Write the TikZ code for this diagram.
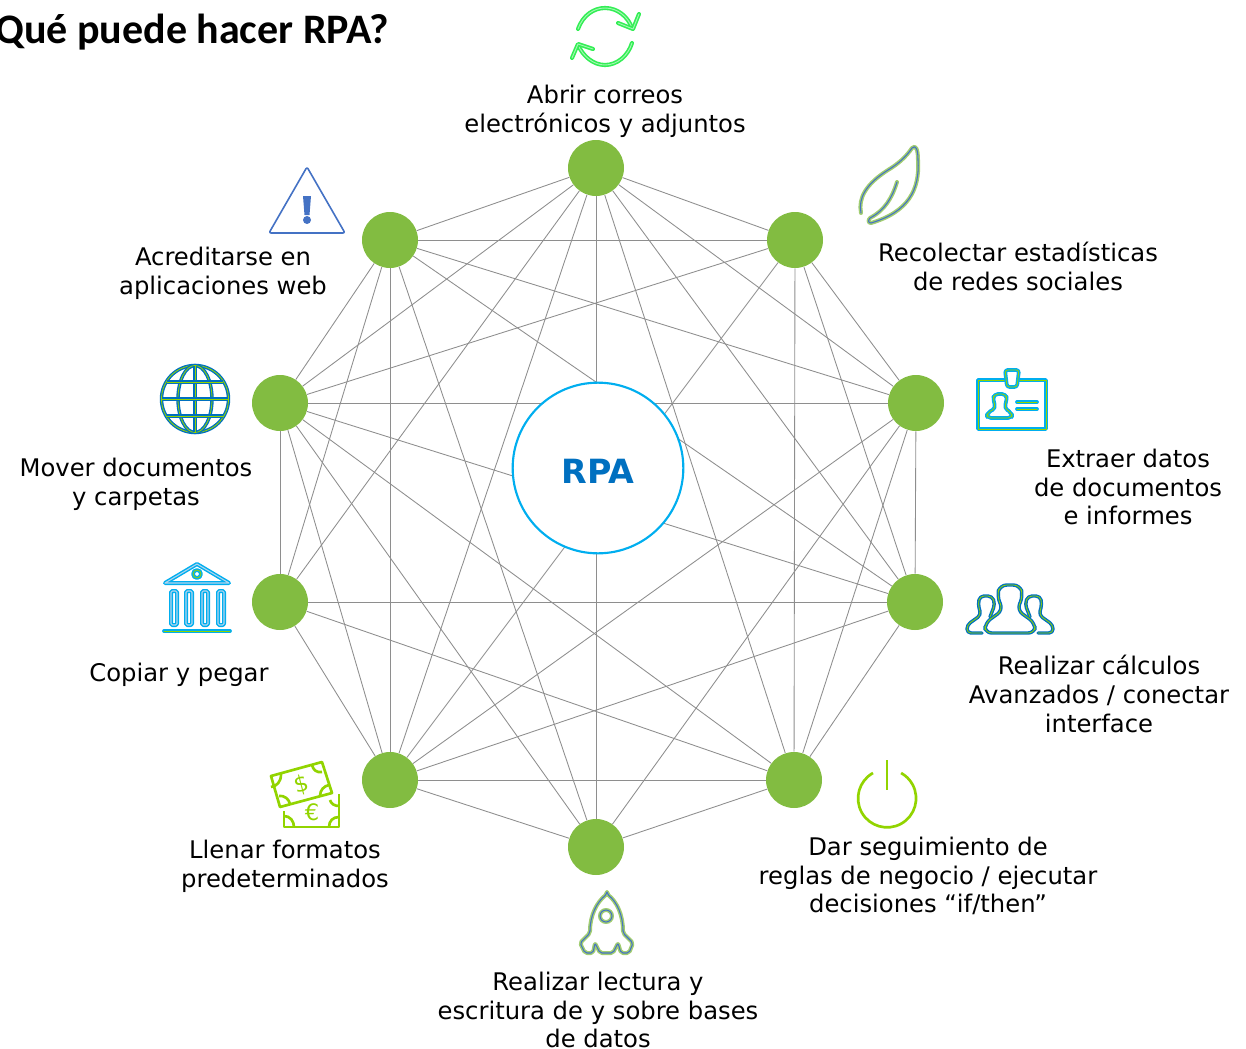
\documentclass[tikz,border=0pt]{standalone}
\usepackage{fontspec}
\setmainfont{DejaVu Sans}
\newfontfamily\titlefont{Carlito}
\definecolor{hubgreen}{HTML}{82BC41}
\definecolor{linkgray}{HTML}{8E8E8E}
\definecolor{rpablue}{HTML}{0070C0}
\definecolor{rpacyan}{HTML}{00AEEF}
\definecolor{limegreen}{HTML}{92D400}
\definecolor{brightgreen}{HTML}{33EE55}
\definecolor{softblue}{HTML}{4472C4}
\tikzset{
    hub/.style={circle, fill=hubgreen, minimum size=42pt, inner sep=0pt},
    link/.style={draw=linkgray, line width=0.65pt},
    label/.style={align=center, font=\fontsize{18.2pt}{21.6pt}\selectfont, inner sep=0pt},
    iconrefresh/.style={draw=brightgreen, line width=1.2pt, double=brightgreen!45!white, double distance=0.7pt, line cap=round, line join=round},
    iconleaf/.style={draw=hubgreen!75!white, line width=1.1pt, double=softblue, double distance=0.8pt, line cap=round, line join=round},
    iconglobe/.style={draw=rpablue, line width=1pt, double=limegreen, double distance=0.6pt},
    iconcyan/.style={draw=rpacyan, line width=1.1pt, double=white!70!rpablue, double distance=0.8pt, line cap=round, line join=round},
    iconcard/.style={draw=rpacyan, line width=1.1pt, double=limegreen, double distance=0.6pt, line cap=round, line join=round},
    iconteam/.style={draw=rpablue, line width=1pt, double=limegreen, double distance=0.6pt, line cap=round, line join=round},
    iconmoney/.style={draw=limegreen, line width=2pt, line join=round},
    iconpower/.style={draw=limegreen, line width=2pt},
}
\begin{document}
\begin{tikzpicture}[x=0.75pt, y=-0.75pt]
    \useasboundingbox (0,0) rectangle (1246,1049);

    % Title
    \node[anchor=west, inner sep=0pt, font=\titlefont\bfseries\fontsize{31.5pt}{34pt}\selectfont] (title) at (-5,32) {Qué puede hacer RPA?};

    % The ten green hubs
    \node[hub] (hub1) at (596,168) {};
    \node[hub] (hub2) at (795,240) {};
    \node[hub] (hub3) at (916,403) {};
    \node[hub] (hub4) at (915,602) {};
    \node[hub] (hub5) at (794,780) {};
    \node[hub] (hub6) at (596,847) {};
    \node[hub] (hub7) at (390,780) {};
    \node[hub] (hub8) at (280,602) {};
    \node[hub] (hub9) at (280,403) {};
    \node[hub] (hub10) at (390,240) {};

    % Links between the hubs
    \foreach \a/\others in {1/{2,3,4,5,6,7,8,9,10}, 2/{3,4,5,7,9,10}, 3/{4,5,6,7,9,10}, 4/{5,7,8,9,10}, 5/{6,7,8,9}, 6/{7,9,10}, 7/{8,9,10}, 8/{9,10}, 9/{10}} {
        \foreach \b in \others {
            \draw[link] (hub\a) -- (hub\b);
        }
    }

    % Centre circle hides the links behind it
    \node[circle, draw=rpacyan, fill=white, line width=1.6pt, minimum size=128pt, inner sep=0pt, font=\bfseries\fontsize{25pt}{28pt}\selectfont, text=rpablue] (rpa) at (598,468) {\raisebox{-11.5pt}[0pt][0pt]{RPA}};

    % Labels
    \node[label] (correos) at (605,111) {Abrir correos\\electrónicos y adjuntos};
    \node[label] (redes) at (1018,266.5) {Recolectar estadísticas\\de redes sociales};
    \node[label] (informes) at (1128,487) {Extraer datos\\de documentos\\e informes};
    \node[label] (calculos) at (1099,694) {Realizar cálculos\\Avanzados / conectar\\interface};
    \node[label] (reglas) at (928,876) {Dar seguimiento de\\reglas de negocio / ejecutar\\decisiones “if/then”};
    \node[label] (bases) at (598,1010) {Realizar lectura y\\escritura de y sobre bases\\de datos};
    \node[label] (formatos) at (285,866) {Llenar formatos\\predeterminados};
    \node[label] (copiar) at (179,675) {Copiar y pegar};
    \node[label] (carpetas) at (136,484) {Mover documentos\\y carpetas};
    \node[label] (web) at (223,273) {Acreditarse en\\aplicaciones web};

    % Refresh icon
    \draw[iconrefresh] (578,29) .. controls (583,15) and (594,8) .. (605,8) .. controls (618,8) and (628,17) .. (632,28);
    \draw[iconrefresh] (618,23) -- (633,29) -- (639,14);
    \draw[iconrefresh] (632,43) .. controls (628,56) and (617,65) .. (605,65) .. controls (593,65) and (583,56) .. (578,45);
    \draw[iconrefresh] (593,49) -- (578,44) -- (572,58);

    % Leaf icon
    \draw[iconleaf] (861,213) .. controls (858,198) and (866,184) .. (888,170) .. controls (898,164) and (906,157) .. (912,148) .. controls (916,144) and (918,150) .. (918,160) .. controls (920,190) and (908,212) .. (871,223) .. controls (868,223) and (868,220) .. (870,218) .. controls (885,210) and (892,198) .. (897,182);

    % Warning icon
    \draw[softblue, line width=1.2pt, line join=round, rounded corners=1.5pt] (307,167) -- (345,233) -- (269,233) -- cycle;
    \fill[softblue] (303,196) -- (311,196) -- (309.5,215) -- (304.5,215) -- cycle;
    \fill[softblue] (307,220) circle (4);

    % Globe icon
    \draw[iconglobe] (195,399) circle (33.5);
    \draw[iconglobe] (195,399) ellipse (17 and 33.5);
    \draw[iconglobe] (195,366) -- (195,432);
    \draw[iconglobe] (162,399) -- (228,399);
    \draw[iconglobe] (167,382) -- (223,382);
    \draw[iconglobe] (167,416) -- (223,416);

    % Bank icon
    \draw[iconcyan] (165,583) -- (197,564) -- (229,583) -- cycle;
    \draw[iconcard] (197,574) circle (4);
    \foreach \colx in {171,186,202,218} {
        \draw[iconcyan, rounded corners=1pt] (\colx,591) rectangle ++(6,34);
    }
    \draw[iconcard] (164,631) -- (230,631);

    % Money icon
    \draw[iconmoney] (271,776) -- (322,762) -- (332,793) -- (280,807) -- cycle;
    \draw[iconmoney] (271,787) .. controls (277,786) and (281,782) .. (281,774);
    \draw[iconmoney] (312,765) .. controls (313,770) and (317,773) .. (322,772);
    \draw[iconmoney] (320,796) .. controls (320,790) and (324,786) .. (329,785);
    \draw[iconmoney] (279,796) .. controls (284,795) and (289,799) .. (290,804);
    \node[rotate=15, text=limegreen, inner sep=0pt, font=\fontsize{17pt}{18pt}\selectfont] (dollar) at (302,785) {\$};
    \draw[iconmoney] (284,811) -- (284,827) -- (339,827) -- (339,794);
    \draw[iconmoney] (284,816) .. controls (290,816) and (294,821) .. (294,827);
    \draw[iconmoney] (329,827) .. controls (329,821) and (333,817) .. (339,817);
    \draw[iconmoney] (330,800) .. controls (331,804) and (335,806) .. (339,806);
    \node[text=limegreen, inner sep=0pt, font=\fontsize{17pt}{18pt}\selectfont] (euro) at (312,812) {€};

    % Badge icon
    \draw[iconcard] (978,380) rectangle (1046,429);
    \draw[iconcard, fill=white, rounded corners=2pt] (1005,370) -- (1019,370) -- (1017,387) -- (1007,387) -- cycle;
    \draw[iconcard, rounded corners=3pt] (987,418) -- (987,413) -- (996,408) -- (993,400) -- (994,394) -- (1006,394) -- (1007,400) -- (1004,408) -- (1012,413) -- (1012,418) -- cycle;
    \draw[iconcard] (1017,402) -- (1037,402);
    \draw[iconcard] (1017,409) -- (1037,409);

    % Team icon
    \draw[iconteam, rounded corners=3pt] (982,633) -- (967,633) -- (967,625) -- (981,615) -- (978,604) -- (980,596) -- (992,596) -- (995,604) -- (990,617);
    \draw[iconteam, rounded corners=3pt] (1038,633) -- (1053,633) -- (1053,625) -- (1039,615) -- (1042,604) -- (1040,596) -- (1028,596) -- (1025,604) -- (1030,617);
    \draw[iconteam, rounded corners=5pt] (985,633) -- (985,623) -- (1003,610) -- (997,596) -- (1000,585) -- (1020,585) -- (1023,596) -- (1017,610) -- (1035,623) -- (1035,633) -- cycle;

    % Power icon
    \draw[iconpower] (887,760) -- (887,790);
    \draw[iconpower] (873,773) arc (-119:-421:29);

    % Rocket icon
    \draw[iconleaf, rounded corners=1.5pt] (607,894) .. controls (617,902) and (623,915) .. (623,933) -- (633,943) -- (629,953) -- (621,953) -- (618,943) -- (613,953) -- (600,953) -- (595,943) -- (593,953) -- (585,953) -- (580,943) -- (590,933) .. controls (590,915) and (597,902) .. (607,894) -- cycle;
    \draw[iconleaf] (606,916) circle (6);
\end{tikzpicture}
\end{document}
